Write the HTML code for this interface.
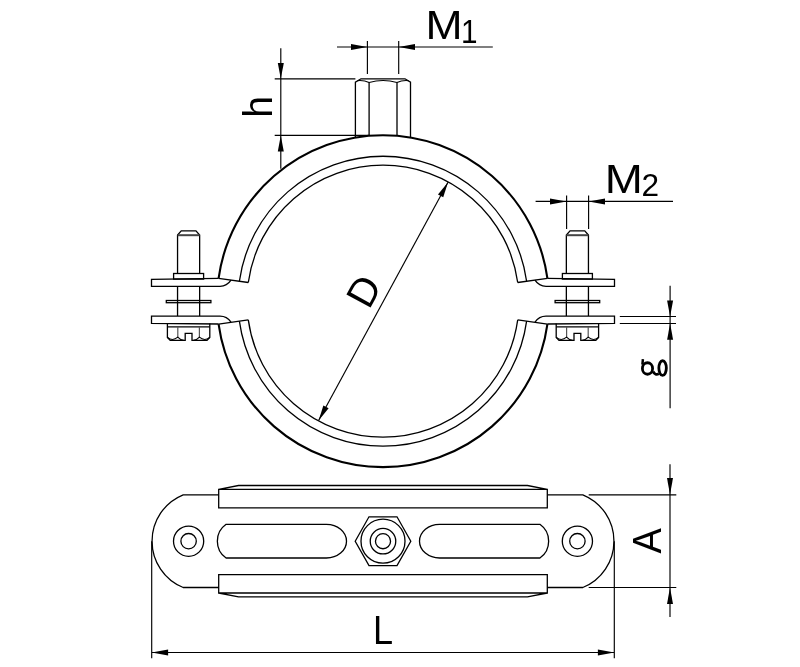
<!DOCTYPE html>
<html><head><meta charset="utf-8"><title>Pipe clamp drawing</title>
<style>html,body{margin:0;padding:0;background:#fff;width:800px;height:667px;overflow:hidden}svg{display:block;will-change:transform}
text{font-family:"Liberation Sans",sans-serif}</style></head>
<body>
<svg width="800" height="667" viewBox="0 0 800 667">
<rect width="800" height="667" fill="#fff"/>
<g fill="none" stroke="#000" stroke-width="1.30" stroke-linejoin="miter" stroke-linecap="butt">
<path d="M218.58 278.38 A166.00 166.00 0 0 1 547.42 278.38" stroke-width="2.10"/>
<path d="M218.58 324.02 A166.00 166.00 0 0 0 547.42 324.02" stroke-width="2.10"/>
<path d="M239.38 281.27 A145.00 145.00 0 0 1 526.62 281.27" stroke-width="1.30"/>
<path d="M239.38 321.13 A145.00 145.00 0 0 0 526.62 321.13" stroke-width="1.30"/>
<path d="M248.29 282.51 A136.00 136.00 0 0 1 517.71 282.51" stroke-width="1.30"/>
<path d="M248.29 319.89 A136.00 136.00 0 0 0 517.71 319.89" stroke-width="1.30"/>
<path d="M218.58 278.38 L248.29 282.51"/>
<path d="M218.58 324.02 L248.29 319.89"/>
<path d="M547.42 278.38 L517.71 282.51"/>
<path d="M547.42 324.02 L517.71 319.89"/>
<path d="M218.58 278.38 L151.50 279.3 L151.50 286.3 L220.00 286.3 Q227.00 286.3 231.00 280.2"/>
<path d="M218.58 324.02 L151.50 323.3 L151.50 316.2 L220.00 316.2 Q227.00 316.2 231.00 322.2"/>
<path d="M547.42 278.38 L614.50 279.3 L614.50 286.3 L546.00 286.3 Q539.00 286.3 535.00 280.2"/>
<path d="M547.42 324.02 L614.50 323.3 L614.50 316.2 L546.00 316.2 Q539.00 316.2 535.00 322.2"/>
<path d="M177.55 273.5 V235 L181.25 230.8 H195.95 L199.65 235 V273.5"/>
<path d="M177.55 235.2 H199.65" stroke="#444" stroke-width="2"/>
<rect x="173.60" y="273.5" width="30" height="5.6"/>
<path d="M177.55 286.6 V315.9 M199.65 286.6 V315.9"/>
<rect x="166.30" y="300.5" width="44.6" height="2.2"/>
<path d="M167.40 323.4 V337.4 L170.20 340.4 H185.20 V333.4 H192.00 V340.4 H207.00 L209.80 337.4 V323.4"/>
<path d="M167.40 326.9 H209.80"/>
<path d="M177.80 326.9 V337.3 M199.40 326.9 V337.3" stroke="#555" stroke-width="1.2"/>
<path d="M167.60 337.4 Q172.60 341.6 177.80 337.2 Q180.40 340.2 183.80 340.4" stroke-width="1.1"/>
<path d="M209.60 337.4 Q204.60 341.6 199.40 337.2 Q196.80 340.2 193.40 340.4" stroke-width="1.1"/>
<path d="M566.35 273.5 V235 L570.05 230.8 H584.75 L588.45 235 V273.5"/>
<path d="M566.35 235.2 H588.45" stroke="#444" stroke-width="2"/>
<rect x="562.40" y="273.5" width="30" height="5.6"/>
<path d="M566.35 286.6 V315.9 M588.45 286.6 V315.9"/>
<rect x="555.10" y="300.5" width="44.6" height="2.2"/>
<path d="M556.20 323.4 V337.4 L559.00 340.4 H574.00 V333.4 H580.80 V340.4 H595.80 L598.60 337.4 V323.4"/>
<path d="M556.20 326.9 H598.60"/>
<path d="M566.60 326.9 V337.3 M588.20 326.9 V337.3" stroke="#555" stroke-width="1.2"/>
<path d="M556.40 337.4 Q561.40 341.6 566.60 337.2 Q569.20 340.2 572.60 340.4" stroke-width="1.1"/>
<path d="M598.40 337.4 Q593.40 341.6 588.20 337.2 Q585.60 340.2 582.20 340.4" stroke-width="1.1"/>
<path d="M355.4 137.51 V82.2 L361 78.8 H405 L410.5 82.2 V137.49"/>
<path d="M369.1 82.5 V135.78 M397 82.5 V135.79"/>
<path d="M357.5 80.6 Q364 80 369.1 82.5 Q383 78.6 397 82.5 Q402 80 408.5 80.6" stroke-width="1.1"/>
<path d="M218.7 494.8 H183.2 A50.06 50.06 0 0 0 183.2 587.5 H218.7"/>
<path d="M547.3 494.8 H582.8 A50.06 50.06 0 0 1 582.8 587.5 H547.3"/>
<path d="M218.7 489.4 H547.3 V507.8 H218.7 Z M218.7 489.4 L238.5 485.5 H527.5 L547.3 489.4"/>
<path d="M218.7 574.6 H547.3 V593 H218.7 Z M218.7 593 L238.5 596.9 H527.5 L547.3 593"/>
<path d="M226.1 524.3 H326.4 A20.1 16.85 0 0 1 326.4 558 H226.1 A20.6 20.6 0 0 1 226.1 524.3 Z"/>
<path d="M539.9 524.3 H439.6 A20.1 16.85 0 0 0 439.6 558 H539.9 A20.6 20.6 0 0 0 539.9 524.3 Z"/>
<path d="M355.2 541.2 L369.0 516.8 L397.0 516.8 L410.8 541.2 L397.0 565.6 L369.0 565.6 Z"/>
<circle cx="188.60" cy="541.20" r="15.10"/>
<circle cx="188.60" cy="541.20" r="7.70"/>
<circle cx="577.40" cy="541.20" r="15.10"/>
<circle cx="577.40" cy="541.20" r="7.70"/>
<circle cx="383.00" cy="541.20" r="22.00"/>
<circle cx="383.00" cy="541.20" r="12.75"/>
<circle cx="383.00" cy="541.20" r="7.55"/>
</g>
<g fill="none" stroke="#000" stroke-width="1.15">
<path d="M337 47 H492.8 M367.4 41 V73.9 M398.7 41 V73.9"/>
<path d="M280.8 48.2 V168.7 M274.7 78.8 H355.4 M274.7 135.4 H369.4"/>
<path d="M535.6 201.4 H673 M566.6 195.6 V229 M588.6 195.6 V229"/>
<path d="M670.1 285.7 V408.2 M619.8 316.5 H676 M619.8 323.5 H676"/>
<path d="M318.6 420.6 L448 182.2"/>
<path d="M151.7 541.2 V658.2 M614.3 541.2 V658.2 M151.7 652.5 H614.3"/>
<path d="M588.7 494.8 H676.3 M588.7 587.5 H676.3 M670 464.3 V617"/>
</g>
<g fill="#000" stroke="none"><path class="ar" d="M367.40 47.00 L351.00 50.00 L351.00 44.00 Z"/><path class="ar" d="M398.70 47.00 L415.00 44.00 L415.00 50.00 Z"/><path class="ar" d="M280.80 78.80 L277.80 63.00 L283.80 63.00 Z"/><path class="ar" d="M280.80 135.40 L283.80 151.50 L277.80 151.50 Z"/><path class="ar" d="M566.60 201.40 L550.00 204.40 L550.00 198.40 Z"/><path class="ar" d="M588.60 201.40 L605.00 198.40 L605.00 204.40 Z"/><path class="ar" d="M670.10 316.50 L667.10 300.50 L673.10 300.50 Z"/><path class="ar" d="M670.10 323.50 L673.10 339.70 L667.10 339.70 Z"/><path class="ar" d="M448.00 182.20 L443.24 197.33 L437.96 194.47 Z"/><path class="ar" d="M318.60 420.60 L323.36 405.47 L328.64 408.33 Z"/><path class="ar" d="M151.70 652.50 L168.10 649.50 L168.10 655.50 Z"/><path class="ar" d="M614.30 652.50 L597.90 655.50 L597.90 649.50 Z"/><path class="ar" d="M670.00 494.80 L667.00 478.00 L673.00 478.00 Z"/><path class="ar" d="M670.00 587.50 L673.00 603.90 L667.00 603.90 Z"/></g>
<g font-family="Liberation Sans, sans-serif"><text transform="matrix(0.4455 0.0000 0.0000 0.4143 425.55 38.50)" font-size="100" fill="#000">M</text><text transform="matrix(0.2969 0.0000 0.0000 0.3343 460.94 42.50)" font-size="100" fill="#000">1</text><text transform="matrix(0.4574 0.0000 0.0000 0.3983 604.65 193.00)" font-size="100" fill="#000">M</text><text transform="matrix(0.3161 0.0000 0.0000 0.3151 641.41 196.00)" font-size="100" fill="#000">2</text><text transform="matrix(0.0000 -0.3911 0.3975 0.0000 272.00 117.71)" font-size="100" fill="#000">h</text><text transform="matrix(0.3606 0.0000 0.0000 0.4128 373.04 644.00)" font-size="100" fill="#000">L</text><text transform="matrix(0.0000 -0.3800 0.4084 0.0000 661.20 553.57)" font-size="100" fill="#000">A</text><text transform="matrix(0.1918 -0.3510 0.3510 0.1918 368.93 310.58)" font-size="100" fill="#000">D</text></g>
<g fill="none" stroke="#000" stroke-width="2.8"><ellipse cx="647.5" cy="368.5" rx="5.1" ry="5.75"/><ellipse cx="662.6" cy="368.1" rx="3.75" ry="7.35"/><path d="M653 371.5 Q655.5 376 658.8 373.6"/><path d="M642.4 364.6 L642.9 359.2" stroke-width="2.5"/></g>
</svg>
</body></html>
